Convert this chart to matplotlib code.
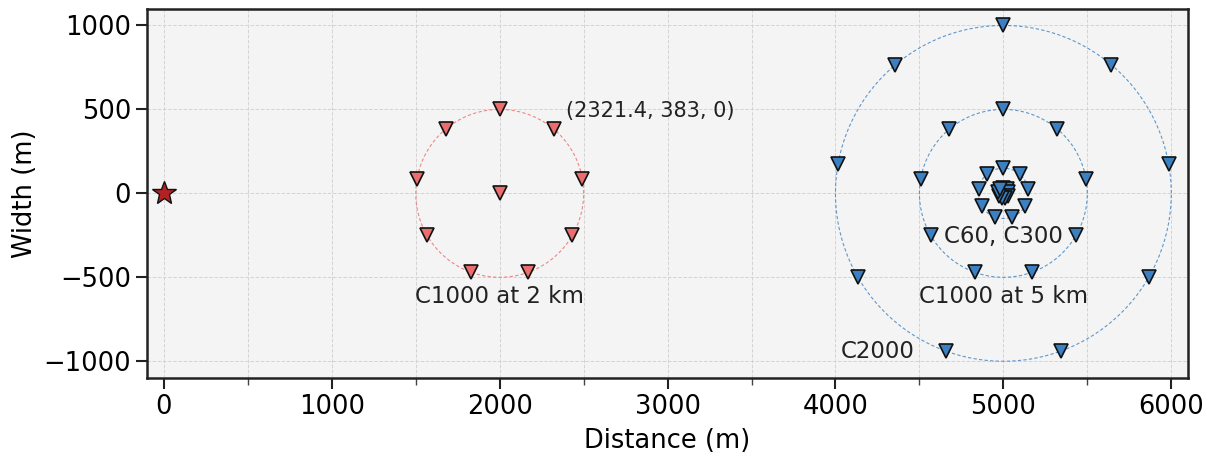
import numpy as np
import matplotlib
matplotlib.use("Agg")
import matplotlib.pyplot as plt
from matplotlib.ticker import MultipleLocator

# Array definitions
angles_deg = [90, 50, 10, -30, -70, -110, -150, 170, 130]
array_2km_center = (2000, 0)
array_2km_radius = [500]
array_5km_center = (5000, 0)
array_5km_radii = [30, 150, 500, 1000]
source_xy = (0, 0)

labels = [
    ("C1000 at 2 km", 2000, -615, "center"),
    ("C1000 at 5 km", 5000, -615, "center"),
    ("C60, C300", 5000, -255, "center"),
    ("C2000", 4470, -940, "right"),
]
coord_label = "(2321.4, 383, 0)"

red = "#ec6d6d"
blue = "#3a80c2"

fig = plt.figure(figsize=(12.16, 4.62), dpi=100)
ax = fig.add_axes([0.121, 0.180, 0.856, 0.803])
ax.set_facecolor("#f4f4f4")

th = np.radians(angles_deg)
tt = np.linspace(0, 2 * np.pi, 400)

def draw_array(center, radii, color, with_center):
    cx, cy = center
    xs, ys = [], []
    if with_center:
        xs.append(cx); ys.append(cy)
    for r in radii:
        ax.plot(cx + r * np.cos(tt), cy + r * np.sin(tt), ls=(0, (3, 2)),
                lw=0.8, color=color, alpha=0.8, zorder=2)
        xs.extend(cx + r * np.cos(th)); ys.extend(cy + r * np.sin(th))
    ax.plot(xs, ys, "v", ms=9.5, mfc=color, mec="#111111", mew=1.2, ls="none", zorder=4)

draw_array(array_2km_center, array_2km_radius, red, True)
draw_array(array_5km_center, array_5km_radii, blue, True)

ax.plot(*source_xy, "*", ms=18, mfc="#b22222", mec="#111111", mew=1.0, zorder=5)

for txt, x, y, ha in labels:
    ax.text(x, y, txt, ha=ha, va="center", fontsize=16.5, color="#222222", zorder=6)
px = 2000 + 500 * np.cos(np.radians(50))
py = 500 * np.sin(np.radians(50))
ax.annotate(coord_label, (px, py), xytext=(9, 13), textcoords="offset points",
            fontsize=15, color="#222222", va="center", ha="left")

ax.set_xlim(-100, 6100)
ax.set_ylim(-1100, 1100)
ax.set_aspect("equal")
ax.xaxis.set_major_locator(MultipleLocator(1000))
ax.xaxis.set_minor_locator(MultipleLocator(500))
ax.yaxis.set_major_locator(MultipleLocator(500))
ax.grid(True, which="both", ls="--", lw=0.7, color="#d4d4d4")
ax.set_axisbelow(True)
ax.tick_params(axis="both", which="major", labelsize=18.5, length=8, width=1.5, color="#222222")
ax.tick_params(axis="x", which="minor", length=5, width=1.0, color="#444444")
for s in ax.spines.values():
    s.set_linewidth(1.8)
    s.set_color("#222222")
ax.set_xlabel("Distance (m)", fontsize=18.5, labelpad=6)
ax.set_ylabel("Width (m)", fontsize=18.5, labelpad=4)

fig.savefig("out.png", dpi=100)
